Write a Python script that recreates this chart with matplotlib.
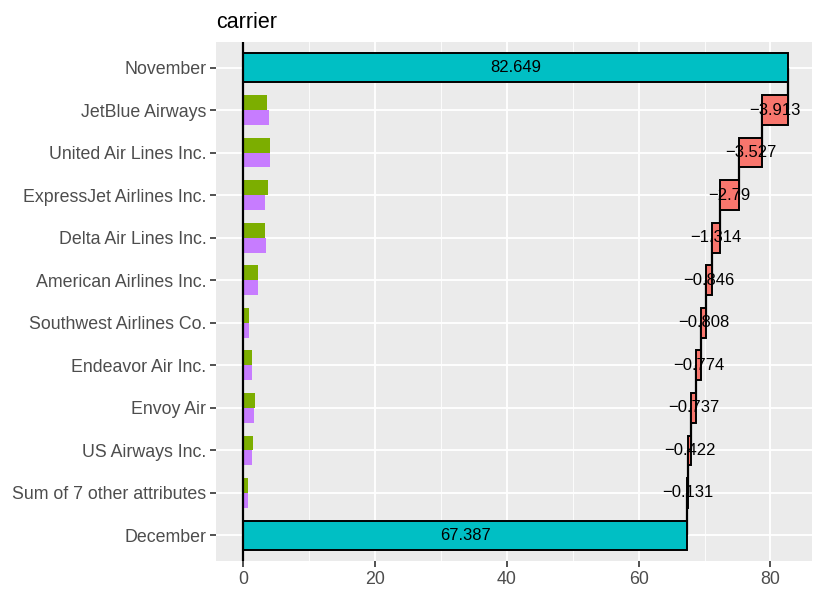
import numpy as np
import matplotlib.pyplot as plt

plt.rcParams['font.family'] = ['Liberation Sans', 'DejaVu Sans']

# rows, top to bottom
labels = ["November", "JetBlue Airways", "United Air Lines Inc.",
          "ExpressJet Airlines Inc.", "Delta Air Lines Inc.",
          "American Airlines Inc.", "Southwest Airlines Co.",
          "Endeavor Air Inc.", "Envoy Air", "US Airways Inc.",
          "Sum of 7 other attributes", "December"]
start_value = 82.649
end_value = 67.387
contrib = [-3.913, -3.527, -2.79, -1.314, -0.846, -0.808,
           -0.774, -0.737, -0.422, -0.131]
contrib_text = ["\u22123.913", "\u22123.527", "\u22122.79", "\u22121.314",
                "\u22120.846", "\u22120.808", "\u22120.774", "\u22120.737",
                "\u22120.422", "\u22120.131"]
# small dodged bars on the left (feature rows only)
green_vals = [3.65, 4.1, 3.8, 3.35, 2.28, 0.9, 1.37, 1.8, 1.5, 0.76]
purple_vals = [3.95, 4.1, 3.35, 3.5, 2.28, 0.9, 1.37, 1.67, 1.37, 0.76]

teal = "#00BFC4"
red = "#F8766D"
green = "#7CAE00"
purple = "#C77CFF"

fig = plt.figure(figsize=(8.25, 6), dpi=100)
ax = fig.add_axes([216 / 825, 1 - 561 / 600, (812 - 216) / 825, (561 - 42) / 600])
ax.set_facecolor("#EBEBEB")

n = len(labels)
ypos = np.arange(n)
cum = start_value + np.concatenate([[0], np.cumsum(contrib)])

# connectors between consecutive bars
for i in range(n - 1):
    ax.plot([cum[i], cum[i]], [ypos[i], ypos[i + 1]], color="black",
            lw=1.6, zorder=2, solid_capstyle="butt")

# start / end bars
ax.barh(ypos[0], start_value, height=0.7, color=teal, edgecolor="black",
        lw=1.4, zorder=3)
ax.barh(ypos[-1], end_value, height=0.7, color=teal, edgecolor="black",
        lw=1.4, zorder=3)
ax.text(start_value / 2, ypos[0], "82.649", ha="center", va="center",
        fontsize=12, zorder=5)
ax.text(end_value / 2, ypos[-1], "67.387", ha="center", va="center",
        fontsize=12, zorder=5)

# contribution bars
for i, c in enumerate(contrib):
    y = ypos[i + 1]
    left = cum[i + 1]
    ax.barh(y, -c, left=left, height=0.7, color=red, edgecolor="black",
            lw=1.4, zorder=3)
    ax.text((cum[i] + cum[i + 1]) / 2, y, contrib_text[i], ha="center",
            va="center", fontsize=12, zorder=5)

# dodged small bars
ax.barh(ypos[1:-1] - 0.175, green_vals, height=0.35, color=green, zorder=3)
ax.barh(ypos[1:-1] + 0.175, purple_vals, height=0.35, color=purple, zorder=3)

ax.axvline(0, color="black", lw=1.6, zorder=4)

ax.set_xlim(-4.1, 86.3)
ax.set_ylim(n - 1 + 0.6, -0.6)
ax.set_xticks([0, 20, 40, 60, 80])
ax.set_xticks([10, 30, 50, 70], minor=True)
ax.set_yticks(ypos)
ax.set_yticklabels(labels)
ax.grid(which="major", color="white", lw=1.3, zorder=0)
ax.grid(which="minor", axis="x", color="white", lw=0.6, zorder=0)
ax.set_axisbelow(True)
for s in ax.spines.values():
    s.set_visible(False)
ax.tick_params(axis="both", which="major", colors="#333333", length=4,
               width=1.2, labelsize=12.75, labelcolor="#4D4D4D", pad=3)
ax.tick_params(axis="x", which="minor", length=0)
ax.set_title("carrier", loc="left", fontsize=15.5, pad=10, x=0.0)

fig.savefig("out.png", dpi=100)
